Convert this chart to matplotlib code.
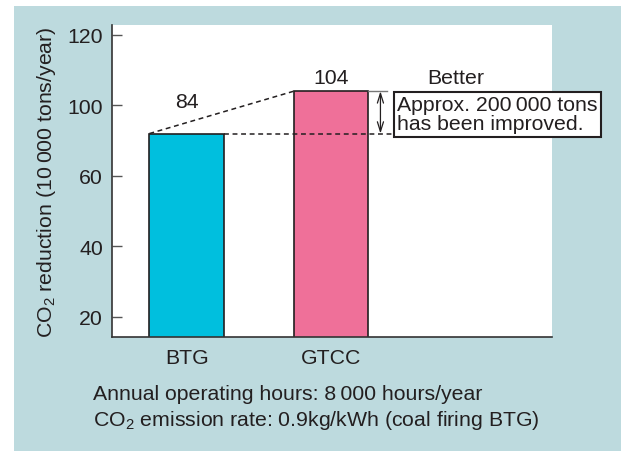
import numpy as np
import matplotlib
matplotlib.use("Agg")
import matplotlib.pyplot as plt
from matplotlib.patches import Rectangle

plt.rcParams['font.family'] = ['Liberation Sans', 'DejaVu Sans']
plt.rcParams['mathtext.fontset'] = 'custom'
plt.rcParams['mathtext.rm'] = 'Liberation Sans'
plt.rcParams['mathtext.it'] = 'Liberation Sans:italic'
plt.rcParams['mathtext.bf'] = 'Liberation Sans:bold'

# ---- data ----
categories = ["BTG", "GTCC"]
values = [84, 104]
bar_colors = ["#00BFDE", "#EF7099"]
ytick_values = [20, 40, 60, 100, 120]
better_label = "Better"
box_text = "Approx. 200\u2009000 tons\nhas been improved."
ylabel = "CO$_2$ reduction (10\u2009000 tons/year)"
footer1 = "Annual operating hours: 8\u2009000 hours/year"
footer2 = "CO$_2$ emission rate: 0.9kg/kWh (coal firing BTG)"

TXT = "#231F20"
BG = "#BDDADE"
FS = 15.3

# piecewise axis: 100->60 compressed (as in the original figure)
_src = [-100, 60, 100, 300]
_dst = [-100, 60, 80, 280]
def fwd(v):
    return np.interp(v, _src, _dst)
def inv(v):
    return np.interp(v, _dst, _src)

fig = plt.figure(figsize=(6.21, 4.52), dpi=100)
fig.patch.set_facecolor("white")
fig.patches.append(Rectangle((14/621, 0), 1 - 14/621, 1 - 7/452,
                             transform=fig.transFigure, facecolor=BG,
                             edgecolor="none", zorder=-10))

ax = fig.add_axes([112/621, 1 - 338/452, 440/621, 312/452])
ax.set_facecolor("white")
ax.set_yscale("function", functions=(fwd, inv))

x = np.arange(len(categories))
w = 0.52
ax.bar(x, values, width=w, color=bar_colors, edgecolor=TXT, linewidth=1.2, zorder=2)

ax.set_xlim(-0.519, 2.533)
ax.set_ylim(14.3, 122.8)
ax.set_yticks(ytick_values)
ax.set_yticklabels([str(v) for v in ytick_values])
ax.set_xticks(x)
ax.set_xticklabels(categories)
ax.minorticks_off()

for s in ["top", "right"]:
    ax.spines[s].set_visible(False)
for s in ["left", "bottom"]:
    ax.spines[s].set_color("#333333")
    ax.spines[s].set_linewidth(1.2)

ax.tick_params(axis="y", direction="in", length=7.2, width=1.0, color="#555555",
               labelsize=FS, labelcolor=TXT, pad=6.5)
ax.tick_params(axis="x", length=0, labelsize=FS, labelcolor=TXT, pad=8)
ax.set_ylabel(ylabel, fontsize=FS, color=TXT, labelpad=7)

# value labels
ax.annotate(str(values[0]), xy=(x[0], values[0]), xytext=(0, 23), textcoords="offset points",
            ha="center", va="center", fontsize=FS, color=TXT)
ax.annotate(str(values[1]), xy=(x[1], values[1]), xytext=(0, 10), textcoords="offset points",
            ha="center", va="center", fontsize=FS, color=TXT)
ax.annotate(better_label, xy=(x[1], values[1]), xytext=(90, 10), textcoords="offset points",
            ha="center", va="center", fontsize=FS, color=TXT)

# dashed guide lines
dash = (0, (3.2, 2.4))
ax.plot([x[0] - w/2, x[1] - w/2], [values[0], values[1]], color=TXT, lw=1.1,
        linestyle=dash, zorder=3)
ax.plot([x[0] + w/2, 1.453], [values[0], values[0]], color=TXT, lw=1.1,
        linestyle=dash, zorder=3, clip_on=False)
ax.plot([x[1] + w/2, 1.391], [values[1], values[1]], color="#777777", lw=1.0,
        zorder=3, clip_on=False)
ax.annotate("", xy=(1.343, values[1]), xytext=(1.343, values[0]),
            arrowprops=dict(arrowstyle="<->,head_length=0.7,head_width=0.22",
                            color=TXT, lw=0.9, shrinkA=0, shrinkB=0))

ax.text(1.460, 95, box_text, fontsize=FS, color=TXT, ha="left", va="center",
        linespacing=1.0, clip_on=False, zorder=5,
        bbox=dict(boxstyle="square,pad=0.17", facecolor="white", edgecolor=TXT, linewidth=1.5))

fig.text(93/621, 1 - 400/452, footer1, fontsize=FS, color=TXT, ha="left", va="baseline")
fig.text(93/621, 1 - 426/452, footer2, fontsize=FS, color=TXT, ha="left", va="baseline")

fig.savefig("out.png", dpi=100)
